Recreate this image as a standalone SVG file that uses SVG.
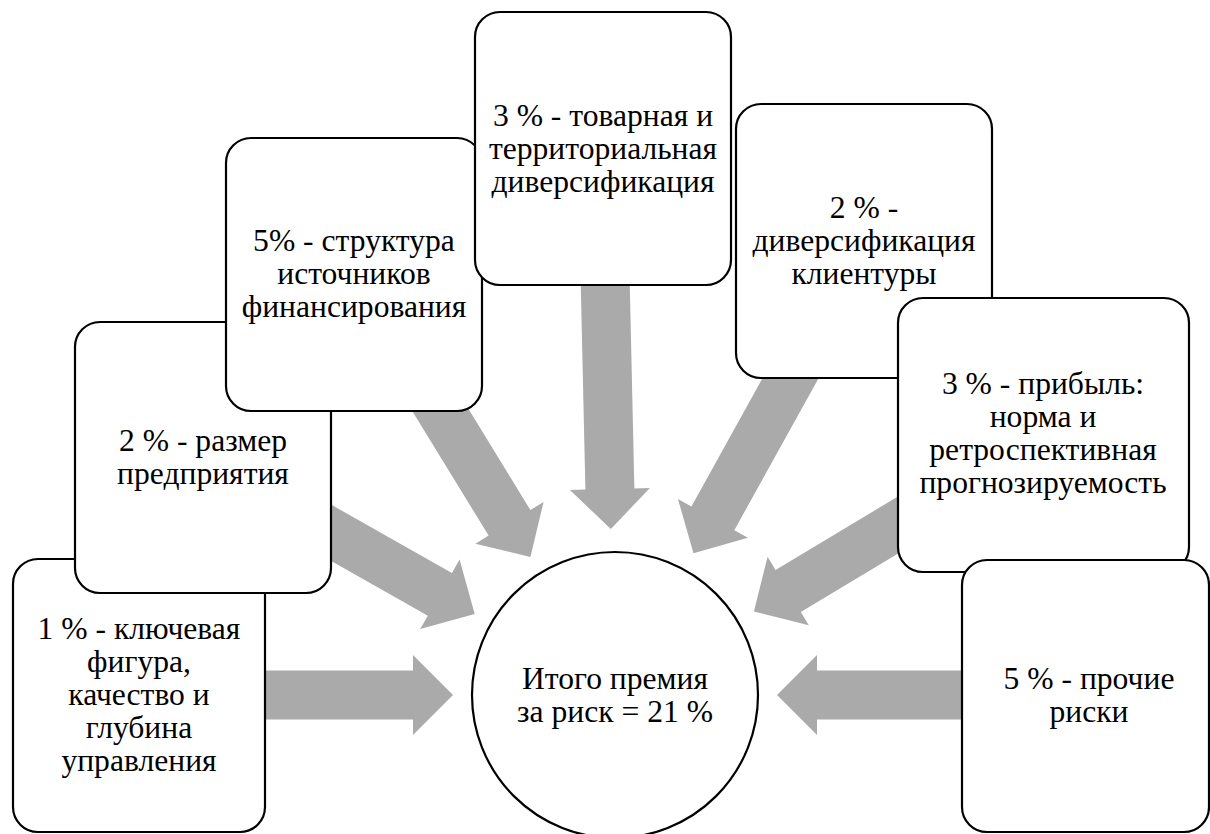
<svg xmlns="http://www.w3.org/2000/svg" width="1210" height="834" viewBox="0 0 1210 834">
<style>
.box{fill:#fff;stroke:#000;stroke-width:2.2}
.arr{fill:#AAAAAA;stroke:none}
text{font-family:'Liberation Serif','Times New Roman',Tinos,'DejaVu Serif',serif;font-size:31.6px;fill:#000;text-anchor:middle}
</style>
<defs>
<polygon id="a190" class="arr" points="0,0 -40,-40 -40,-24.5 -190,-24.5 -190,24.5 -40,24.5 -40,40"/>
<polygon id="a195" class="arr" points="0,0 -40,-40 -40,-24.5 -195,-24.5 -195,24.5 -40,24.5 -40,40"/>
<polygon id="a225" class="arr" points="0,0 -40,-40 -40,-24.5 -225,-24.5 -225,24.5 -40,24.5 -40,40"/>
<polygon id="a260" class="arr" points="0,0 -40,-40 -40,-24.5 -260,-24.5 -260,24.5 -40,24.5 -40,40"/>
</defs>
<rect width="1210" height="834" fill="#fff"/>
<g id="connectors">
<use href="#a190" transform="translate(453,695)"/>
<use href="#a190" transform="translate(474.7,614) rotate(29.5)"/>
<use href="#a195" transform="translate(530.4,556.9) rotate(58.5)"/>
<use href="#a260" transform="translate(610.8,529) rotate(88.7)"/>
<use href="#a225" transform="translate(693.5,553.3) rotate(119)"/>
<use href="#a190" transform="translate(753.9,611.6) rotate(149)"/>
<use href="#a190" transform="translate(777,695) rotate(180)"/>
</g>
<g id="center">
<circle class="box" cx="615" cy="695" r="143"/>
<text x="615" y="689">Итого премия</text>
<text x="615" y="722">за риск = 21 %</text>
</g>
<g id="n1">
<rect class="box" x="13" y="559" width="252" height="273" rx="25"/>
<text x="139" y="639">1 % - ключевая</text>
<text x="139" y="672">фигура,</text>
<text x="139" y="705">качество и</text>
<text x="139" y="738">глубина</text>
<text x="139" y="771">управления</text>
</g>
<g id="n2">
<rect class="box" x="75" y="322" width="256" height="271" rx="25"/>
<text x="203" y="451">2 % - размер</text>
<text x="203" y="484">предприятия</text>
</g>
<g id="n3">
<rect class="box" x="226" y="138" width="256" height="273" rx="25"/>
<text x="354" y="251">5% - структура</text>
<text x="354" y="284">источников</text>
<text x="354" y="317">финансирования</text>
</g>
<g id="n4">
<rect class="box" x="475" y="12" width="256" height="273" rx="25"/>
<text x="603" y="126">3 % - товарная и</text>
<text x="603" y="159">территориальная</text>
<text x="603" y="192">диверсификация</text>
</g>
<g id="n5">
<rect class="box" x="736" y="104" width="256" height="274" rx="25"/>
<text x="864" y="218">2 % -</text>
<text x="864" y="251">диверсификация</text>
<text x="864" y="284">клиентуры</text>
</g>
<g id="n6">
<rect class="box" x="898" y="298" width="291" height="274" rx="25"/>
<text x="1043" y="394">3 % - прибыль:</text>
<text x="1043" y="427">норма и</text>
<text x="1043" y="460">ретроспективная</text>
<text x="1043" y="493">прогнозируемость</text>
</g>
<g id="n7">
<rect class="box" x="962" y="560" width="247" height="272" rx="25"/>
<text x="1089" y="689">5 % - прочие</text>
<text x="1089" y="722">риски</text>
</g>
</svg>
